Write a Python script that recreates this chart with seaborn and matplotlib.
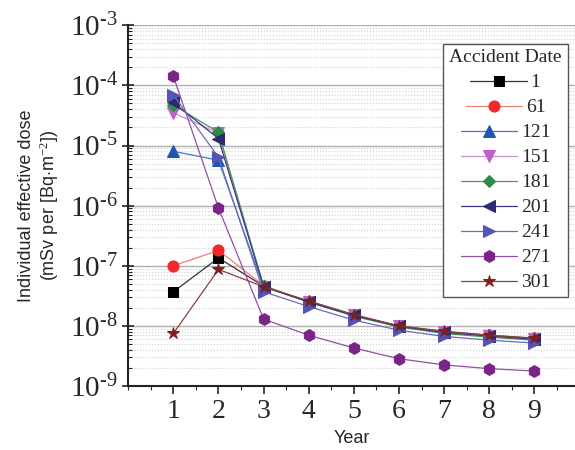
import matplotlib
matplotlib.use("Agg")
import matplotlib.pyplot as plt
import matplotlib.ticker as mticker
import seaborn as sns
import pandas as pd

sns.set_style("ticks")
plt.rcParams["mathtext.fontset"] = "custom"
plt.rcParams["mathtext.rm"] = "Liberation Serif"
plt.rcParams["mathtext.it"] = "Liberation Serif:italic"

years = [1, 2, 3, 4, 5, 6, 7, 8, 9]
dates = ["1", "61", "121", "151", "181", "201", "241", "271", "301"]
y_ticks = [1e-9, 1e-8, 1e-7, 1e-6, 1e-5, 1e-4, 1e-3]
y_tick_labels = ["-9", "-8", "-7", "-6", "-5", "-4", "-3"]

dose_1 = [3.7e-8, 1.35e-7, 4.6e-8, 2.5e-8, 1.5e-8, 1.0e-8, 8.0e-9, 7.0e-9, 6.2e-9]
dose_61 = [1.0e-7, 1.8e-7, 4.7e-8, 2.5e-8, 1.5e-8, 1.0e-8, 8.0e-9, 7.0e-9, 6.2e-9]
dose_121 = [8.0e-6, 5.7e-6, 4.4e-8, 2.6e-8, 1.5e-8, 1.0e-8, 7.8e-9, 6.8e-9, 6.0e-9]
dose_151 = [3.5e-5, 1.6e-5, 4.5e-8, 2.5e-8, 1.5e-8, 9.8e-9, 7.8e-9, 6.8e-9, 6.0e-9]
dose_181 = [4.7e-5, 1.66e-5, 4.6e-8, 2.5e-8, 1.45e-8, 9.6e-9, 7.5e-9, 6.5e-9, 5.8e-9]
dose_201 = [5.2e-5, 1.3e-5, 4.5e-8, 2.5e-8, 1.5e-8, 9.8e-9, 7.8e-9, 6.8e-9, 6.0e-9]
dose_241 = [6.9e-5, 6.4e-6, 3.7e-8, 2.1e-8, 1.25e-8, 8.5e-9, 6.7e-9, 5.8e-9, 5.2e-9]
dose_271 = [1.42e-4, 9.1e-7, 1.3e-8, 7.0e-9, 4.3e-9, 2.85e-9, 2.25e-9, 1.95e-9, 1.78e-9]
dose_301 = [7.5e-9, 8.7e-8, 4.5e-8, 2.6e-8, 1.55e-8, 1.0e-8, 8.2e-9, 7.0e-9, 6.3e-9]

all_doses = [dose_1, dose_61, dose_121, dose_151, dose_181,
             dose_201, dose_241, dose_271, dose_301]

colors = ["#000000", "#f02a2a", "#2255b0", "#c060c8", "#2e8b45",
          "#2a2a6e", "#5454b8", "#7a2488", "#7a2020"]
line_colors = ["#333333", "#f08070", "#4a78c8", "#c890d0", "#4a9a5a",
               "#3a3a78", "#6a6ac0", "#9050a0", "#8a4040"]
markers = ["s", "o", "^", "v", "D", "<", ">", "h", "*"]
sizes = [7, 8, 8, 8, 6.5, 8, 8, 8.5, 9]

rows = []
for d, vals in zip(dates, all_doses):
    for yr, v in zip(years, vals):
        rows.append({"Year": yr, "Dose": v, "Accident Date": d})
df = pd.DataFrame(rows)

fig = plt.figure(figsize=(5.75, 4.5), dpi=100)
ax = fig.add_axes([0.223, 0.142, 0.777, 0.802])

for d, c, lc, m, s in zip(dates, colors, line_colors, markers, sizes):
    sub = df[df["Accident Date"] == d]
    sns.lineplot(data=sub, x="Year", y="Dose", ax=ax, color=lc, marker=m,
                 markersize=s, markerfacecolor=c, markeredgecolor=c,
                 linewidth=0.9, label=d)

ax.set_yscale("log")
ax.set_ylim(1e-9, 1e-3)
ax.set_xlim(0, 9.9)

ax.yaxis.set_major_locator(mticker.FixedLocator(y_ticks))
ax.yaxis.set_minor_locator(mticker.LogLocator(base=10, subs=range(2, 10), numticks=100))
ax.set_yticks(y_ticks, [r"$\mathregular{10^{\text{%s}}}$" % e for e in y_tick_labels])
ax.yaxis.set_minor_formatter(mticker.NullFormatter())
ax.set_xticks(years)
ax.xaxis.set_minor_locator(mticker.MultipleLocator(0.5))

ax.grid(which="major", axis="y", color="#b0b0b0", linestyle="-", linewidth=1.0)
ax.grid(which="minor", axis="y", color="#d0d0d0", linestyle=":", linewidth=0.8)
ax.set_axisbelow(True)

for sp in ["top", "right"]:
    ax.spines[sp].set_visible(False)
for sp in ["left", "bottom"]:
    ax.spines[sp].set_linewidth(1.5)
    ax.spines[sp].set_color("#222222")

ax.tick_params(axis="y", which="major", direction="inout", length=8, width=1.2, labelsize=21)
ax.tick_params(axis="y", which="minor", direction="in", length=3, width=0.8)
ax.tick_params(axis="x", which="major", direction="out", length=6, width=1.2, labelsize=20)
ax.tick_params(axis="x", which="minor", direction="out", length=3, width=0.8)
for lab in ax.get_xticklabels() + ax.get_yticklabels():
    lab.set_family("Liberation Serif")

ax.set_xlabel("Year", family="Liberation Sans", fontsize=13)
ax.set_ylabel("Individual effective dose\n(mSv per [Bq$\\cdot$m$^{-2}$])",
              family="Liberation Sans", fontsize=13, labelpad=6)

leg = ax.legend(title="Accident Date", loc="upper right", bbox_to_anchor=(0.992, 0.96),
                prop={"family": "Liberation Serif", "size": 14},
                title_fontproperties={"family": "Liberation Serif", "size": 14},
                frameon=True, fancybox=False, edgecolor="#555555",
                handlelength=2.9, handletextpad=0.2, labelspacing=0.38,
                borderpad=0.3, borderaxespad=0.2, markerfirst=True)
leg.get_frame().set_linewidth(1.0)
leg.get_frame().set_alpha(1)
for col in leg._legend_handle_box.get_children():
    col.align = "center"

fig.savefig("out.png", dpi=100)
